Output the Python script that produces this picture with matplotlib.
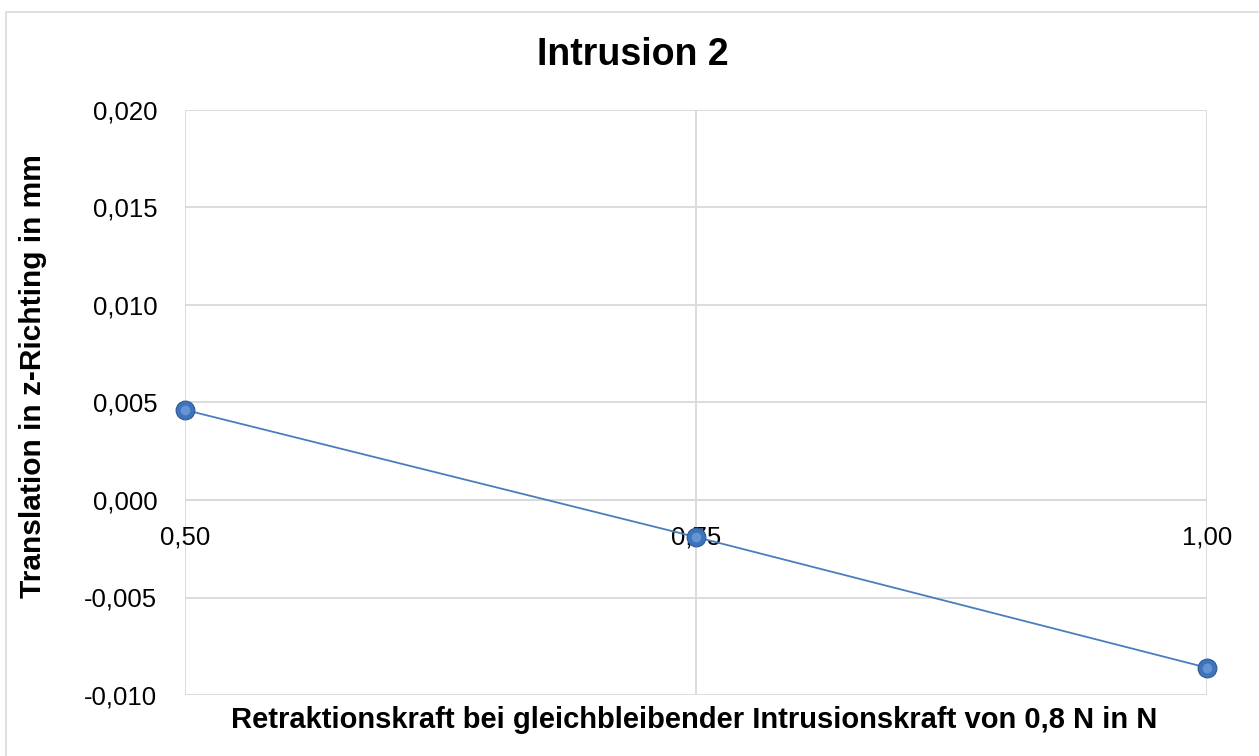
import matplotlib.pyplot as plt
from matplotlib.patches import Rectangle
from matplotlib.ticker import FuncFormatter

# Retraktionskraft (N) vs. Translation in z (mm)
retraction_force = [0.50, 0.75, 1.00]
translation_z = [0.00462, -0.0019, -0.0086]

x_ticks = [0.50, 0.75, 1.00]
y_ticks = [-0.010, -0.005, 0.000, 0.005, 0.010, 0.015, 0.020]

plt.rcParams['font.family'] = ['Liberation Sans', 'DejaVu Sans']

fig = plt.figure(figsize=(12.59, 7.56), dpi=100, facecolor='white')
ax = fig.add_axes([185 / 1259, 1 - 695 / 756, (1207 - 185) / 1259, (695 - 110) / 756])

grid_col = '#d9d9d9'
ax.set_xlim(0.50, 1.00)
ax.set_ylim(-0.010, 0.020)
ax.set_xticks(x_ticks)
ax.set_yticks(y_ticks)
ax.grid(True, color=grid_col, linewidth=1.3)
ax.set_axisbelow(True)
for s in ax.spines.values():
    s.set_visible(False)

# x axis crosses at zero, labels sit right under it (behind the markers)
ax.axhline(0, color=grid_col, linewidth=1.3, zorder=1)
for xv in x_ticks:
    ax.text(xv, -0.0019, f'{xv:.2f}'.replace('.', ','), ha='center', va='center',
            fontsize=18.5, zorder=2)
ax.set_xticklabels([])
ax.tick_params(axis='x', length=0)
ax.tick_params(axis='y', length=0, labelsize=18.5, pad=20)
ax.yaxis.set_major_formatter(FuncFormatter(lambda v, p: f'{v:.3f}'.replace('.', ',')))

# line plus sphere-like markers
ax.plot(retraction_force, translation_z, color='#4a7ebb', linewidth=1.3, zorder=3)
ax.plot(retraction_force, translation_z, linestyle='none', marker='o', markersize=13.5,
        markerfacecolor='#3d74bb', markeredgecolor='#2a5a94', markeredgewidth=0.8,
        zorder=4, clip_on=False)
ax.plot(retraction_force, translation_z, linestyle='none', marker='o', markersize=7,
        markerfacecolor='#6f9ddb', markeredgecolor='none', alpha=0.8, zorder=4,
        clip_on=False)

fig.text(694 / 1259, 1 - 720 / 756,
         'Retraktionskraft bei gleichbleibender Intrusionskraft von 0,8 N in N',
         fontsize=21, fontweight='bold', ha='center', va='center')
fig.text(633 / 1259, 1 - 55 / 756, 'Intrusion 2', fontsize=27, fontweight='bold',
         ha='center', va='center')
fig.text(33 / 1259, 1 - 376 / 756, 'Translation in z-Richting in mm', fontsize=21.5,
         fontweight='bold', rotation=90, ha='center', va='center')

# chart area border
fig.patches.append(Rectangle((6 / 1259, -0.1), 1.2, 1 - 12 / 756 + 0.1,
                             transform=fig.transFigure, fill=False,
                             edgecolor='#d9d9d9', linewidth=1.2))

fig.savefig('out.png', dpi=100)
